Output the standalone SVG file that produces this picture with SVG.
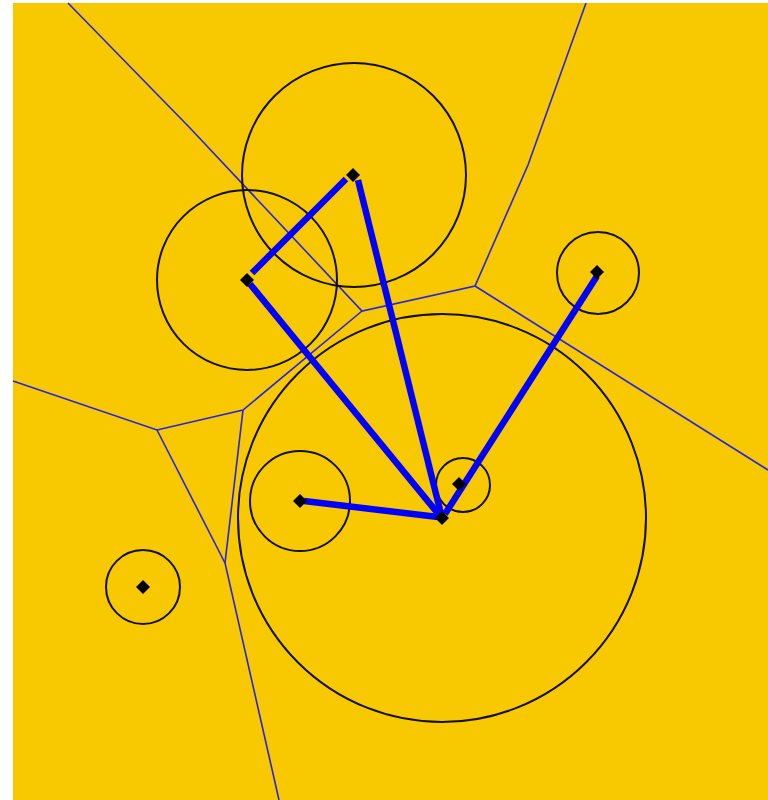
<svg xmlns="http://www.w3.org/2000/svg" width="768" height="800" viewBox="0 0 768 800">
<style>
.vor{fill:none;stroke:#2424e8;stroke-width:1.6;stroke-linejoin:miter}
.circ{fill:none;stroke:#111;stroke-width:2}
.edge{fill:none;stroke:#0000ff;stroke-width:6.5;stroke-linecap:butt}
.site{fill:#000}
</style>
<defs>
<polygon id="dia" points="0,-7 7,0 0,7 -7,0"/>
</defs>
<rect x="0" y="0" width="768" height="800" fill="#ffffff"/>
<rect x="13" y="3" width="755" height="797" fill="#f8c800"/>
<g id="voronoi">
<polyline class="vor" points="68,3 190,128 362,311 475,286 528,165 586,3"/>
<polyline class="vor" points="475,286 768,470"/>
<polyline class="vor" points="362,311 243,410 157,430 13,381"/>
<polyline class="vor" points="243,410 225,563 279,800"/>
<polyline class="vor" points="157,430 225,563"/>
</g>
<g id="circles">
<circle class="circ" cx="354" cy="175" r="112"/>
<circle class="circ" cx="247" cy="280" r="90"/>
<circle class="circ" cx="598" cy="273" r="41"/>
<circle class="circ" cx="442" cy="518" r="204"/>
<circle class="circ" cx="300" cy="501" r="50"/>
<circle class="circ" cx="463" cy="485" r="27"/>
<circle class="circ" cx="143" cy="587" r="37"/>
</g>
<g id="connectors">
<line class="edge" x1="252" y1="273" x2="346" y2="179"/>
<line class="edge" x1="358" y1="180" x2="441" y2="514"/>
<line class="edge" x1="250" y1="284" x2="440" y2="516"/>
<line class="edge" x1="304" y1="501" x2="438" y2="517"/>
<line class="edge" x1="597" y1="276" x2="445" y2="514"/>
</g>
<g id="site-p1"><use href="#dia" x="353" y="175" class="site"/></g>
<g id="site-p2"><use href="#dia" x="247" y="280" class="site"/></g>
<g id="site-p3"><use href="#dia" x="597" y="272" class="site"/></g>
<g id="site-p4"><use href="#dia" x="300" y="501" class="site"/></g>
<g id="site-p5"><use href="#dia" x="442" y="518" class="site"/></g>
<g id="site-p6"><use href="#dia" x="459" y="484" class="site"/></g>
<g id="site-p7"><use href="#dia" x="143" y="587" class="site"/></g>
</svg>
